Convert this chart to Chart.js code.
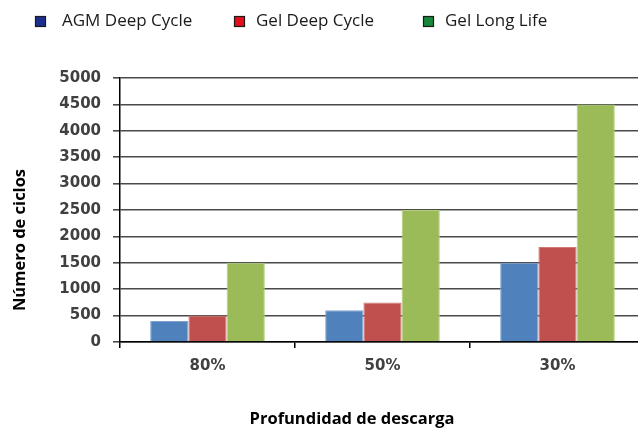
<!DOCTYPE html>
<html>
<head>
<meta charset="utf-8">
<script src="https://cdn.jsdelivr.net/npm/chart.js@4.4.0/dist/chart.umd.min.js"></script>
<style>
html,body{margin:0;padding:0;background:#fff;overflow:hidden;}
#wrap{width:638px;height:428px;overflow:hidden;position:relative;}
canvas{display:block;}
</style>
</head>
<body>
<div id="wrap"><canvas id="c" width="660" height="428"></canvas></div>
<script>
const categories = ['80%', '50%', '30%'];
const seriesNames = ['AGM Deep Cycle', 'Gel Deep Cycle', 'Gel Long Life'];
const agmDeepCycle = [400, 600, 1500];
const gelDeepCycle = [500, 750, 1800];
const gelLongLife = [1500, 2500, 4500];
const yTicks = [0, 500, 1000, 1500, 2000, 2500, 3000, 3500, 4000, 4500, 5000];
const yTitle = 'Número de ciclos';
const xTitle = 'Profundidad de descarga';

const barColors = ['#4f81bd', '#c0504d', '#9bbb59'];
const barBorders = ['#7fa3d2', '#d07a78', '#b3cf7e'];
const legendColors = ['#1b2f8f', '#e3101c', '#17873a'];

const overlay = {
  id: 'overlay',
  afterDraw(chart) {
    const ctx = chart.ctx;
    ctx.save();
    // legend
    const legendPos = [{box: 35, text: 62}, {box: 234, text: 256}, {box: 423, text: 445}];
    ctx.font = '17px "Open Sans"';
    ctx.textBaseline = 'middle';
    ctx.textAlign = 'left';
    chart.data.datasets.forEach((ds, i) => {
      const p = legendPos[i];
      ctx.fillStyle = legendColors[i];
      ctx.fillRect(p.box, 16, 10, 10);
      ctx.strokeStyle = '#1a1a1a';
      ctx.lineWidth = 1.2;
      ctx.strokeRect(p.box + 0.5, 16.5, 10, 10);
      ctx.fillStyle = '#1a1a1a';
      ctx.fillText(ds.label, p.text, 21);
    });
    // axis titles
    ctx.font = 'bold 16.5px "Open Sans"';
    ctx.fillStyle = '#000';
    ctx.textAlign = 'center';
    ctx.fillText(xTitle, 352, 419);
    ctx.translate(20, 240);
    ctx.rotate(-Math.PI / 2);
    ctx.fillText(yTitle, 0, 0);
    ctx.restore();
  }
};

new Chart(document.getElementById('c'), {
  type: 'bar',
  data: {
    labels: categories,
    datasets: [
      {label: seriesNames[0], data: agmDeepCycle, backgroundColor: barColors[0], borderColor: barBorders[0], borderWidth: 1},
      {label: seriesNames[1], data: gelDeepCycle, backgroundColor: barColors[1], borderColor: barBorders[1], borderWidth: 1},
      {label: seriesNames[2], data: gelLongLife, backgroundColor: barColors[2], borderColor: barBorders[2], borderWidth: 1}
    ]
  },
  options: {
    responsive: false,
    animation: false,
    layout: {padding: {top: 78, right: 15, bottom: 0, left: 0}},
    datasets: {bar: {categoryPercentage: 0.655, barPercentage: 1}},
    plugins: {legend: {display: false}, tooltip: {enabled: false}},
    scales: {
      x: {
        afterFit(scale) { scale.height = 86; },
        grid: {display: true, drawOnChartArea: false, drawTicks: true, tickLength: 6, color: '#000', lineWidth: 1.5},
        border: {display: true, color: '#000', width: 1.5},
        ticks: {font: {family: '"DejaVu Sans"', size: 15, weight: 'bold'}, color: '#404040', padding: 9}
      },
      y: {
        min: 0, max: 5000,
        afterFit(scale) { scale.width = 120; },
        afterBuildTicks(scale) { scale.ticks = yTicks.map(v => ({value: v})); },
        grid: {color: '#4a4a4a', lineWidth: 1.6, tickLength: 7, drawTicks: true},
        border: {display: true, color: '#000', width: 1.5},
        ticks: {font: {family: '"DejaVu Sans"', size: 15, weight: 'bold'}, color: '#404040', padding: 12,
                callback: (v) => String(v)}
      }
    }
  },
  plugins: [overlay]
});
</script>
</body>
</html>
